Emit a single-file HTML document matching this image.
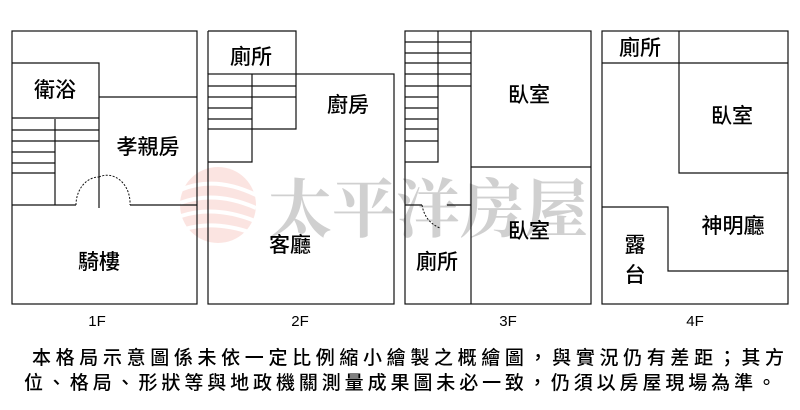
<!DOCTYPE html>
<html><head><meta charset="utf-8"><style>
body{margin:0;background:#fff;}
svg{display:block}
text{font-family:"Liberation Sans","Noto Sans CJK TC",sans-serif;fill:#000;}
</style></head><body>
<svg width="800" height="410" viewBox="0 0 800 410" xmlns="http://www.w3.org/2000/svg">
<g opacity="0.3">
 <circle cx="218" cy="205" r="38" fill="#f3a89e"/>
 <g stroke="#fff" stroke-width="4" fill="none">
  <path d="M180 190 Q215 175 256 195"/><path d="M180 203 Q215 190 256 208"/><path d="M181 216 Q215 205 255 221"/><path d="M185 229 Q215 220 252 233"/>
 </g>
 <text x="268" y="232" font-size="64" style="font-family:'Noto Serif CJK SC',serif;fill:#666" font-weight="bold">太平洋房屋</text>
</g>
<g stroke="#111" stroke-width="1.2" fill="none">
 <rect x="12" y="31" width="185" height="273"/>
 <path d="M12 63H99V177M99 97H197M12 118H99M12 130H99M12 141H99M12 152H55M12 163H55M12 173H55M55 119V205M12 205H76M130 205H197M99 177V208"/>
 <path d="M76 205A23 28 0 0 1 99 177M99 177A23 28 0 0 1 130 205" stroke-dasharray="2 1.5" stroke-width="1"/>
 <rect x="208" y="74" width="186" height="230"/>
 <path d="M208 31H296V129H208M208 86H296M208 97H296M208 108H252M208 119H252M252 74V162H208M208 31V74"/>
 <rect x="405" y="31" width="186" height="273"/>
 <path d="M471 31V304M471 167H591M405 42H471M405 53H471M405 63H471M405 74H471M405 86H471M405 97H438M405 108H438M405 119H438M405 129H438M405 141H438M438 31V162H405M405 205H422M447 205H471"/>
 <path d="M422 205Q425 222 440 228" stroke-dasharray="2 1.5" stroke-width="1"/>
 <rect x="602" y="31" width="186" height="273"/>
 <path d="M679 31V173H788M602 63H788M602 207H668V271H788"/>
</g>
<g font-size="21" text-anchor="middle" font-weight="500" style="font-family:'Noto Sans CJK TC',sans-serif">
 <text x="55" y="97">衛浴</text>
 <text x="148" y="154">孝親房</text>
 <text x="99" y="269">騎樓</text>
 <text x="251" y="64">廁所</text>
 <text x="348" y="112">廚房</text>
 <text x="290" y="252">客廳</text>
 <text x="529" y="102">臥室</text>
 <text x="529" y="238">臥室</text>
 <text x="437" y="269">廁所</text>
 <text x="640" y="55">廁所</text>
 <text x="732" y="123">臥室</text>
 <text x="733" y="233">神明廳</text>
 <text x="635" y="252">露</text>
 <text x="635" y="282">台</text>
</g>
<g font-size="15" text-anchor="middle">
 <text x="97" y="326">1F</text><text x="300" y="326">2F</text><text x="508" y="326">3F</text><text x="695" y="326">4F</text>
</g>
<g font-size="19" text-anchor="middle" font-weight="500" style="font-family:'Noto Sans CJK TC',sans-serif">
 <text x="408" y="364" textLength="752" lengthAdjust="spacing">本格局示意圖係未依一定比例縮小繪製之概繪圖，與實況仍有差距；其方</text>
 <text x="400" y="389" textLength="752" lengthAdjust="spacing">位、格局、形狀等與地政機關測量成果圖未必一致，仍須以房屋現場為準。</text>
</g>
</svg>
</body></html>
